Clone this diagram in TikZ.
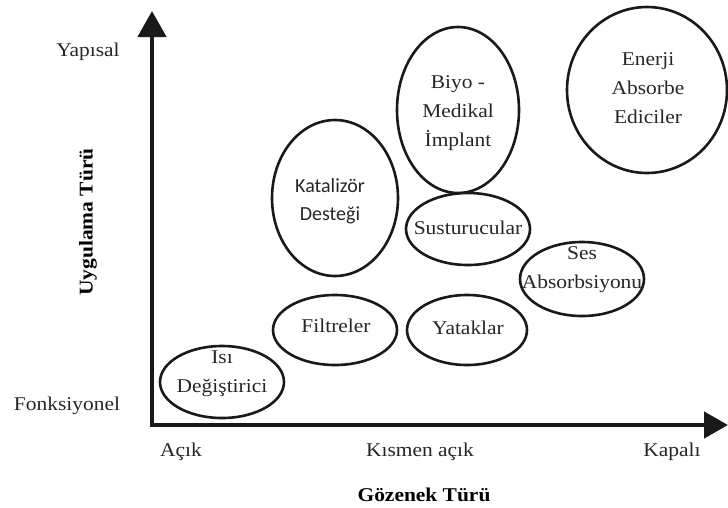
\documentclass[tikz,border=0pt]{standalone}
\usepackage{fontspec}
\setmainfont[FakeStretch=1.1]{Liberation Serif}
\newfontfamily\calfont{Carlito}
\usetikzlibrary{arrows.meta}
\tikzset{
  blobtext/.style={inner sep=0pt, align=center, text=black!85,
    font=\fontsize{19.5}{29}\selectfont},
  ring/.style={draw=black!90, line width=2.6pt},
  lbl/.style={font=\fontsize{19.5}{22}\selectfont, text=black!85, inner sep=0pt},
  ttl/.style={font=\fontsize{19.5}{22}\selectfont\bfseries, inner sep=0pt},
  axis/.style={line width=4.5pt, draw=black!90, {Triangle[length=26pt,width=28pt]}-{Triangle[length=24pt,width=26pt]}}
}
\begin{document}
\begin{tikzpicture}[x=1pt,y=-1pt]
\useasboundingbox (0,0) rectangle (728,507);
\coordinate (ytip) at (152,11);
\coordinate (org) at (152,425);
\coordinate (xtip) at (728,425);
\draw[axis, line join=miter] (ytip) -- (org) -- (xtip);

% ellipse centres
\coordinate (isiC) at (222,382);
\coordinate (filtC) at (335,330);
\coordinate (yatC) at (467,330);
\coordinate (katC) at (335,198);
\coordinate (biyoC) at (458,110);
\coordinate (susC) at (468,229);
\coordinate (sesC) at (582,279);
\coordinate (eneC) at (647,90);

\draw[ring] (isiC) ellipse [x radius=62, y radius=36];
\draw[ring] (filtC) ellipse [x radius=62, y radius=35];
\draw[ring] (yatC) ellipse [x radius=60, y radius=35];
\draw[ring] (katC) ellipse [x radius=63, y radius=78];
\draw[ring] (biyoC) ellipse [x radius=61, y radius=83];
\draw[ring] (susC) ellipse [x radius=62, y radius=36];
\draw[ring] (sesC) ellipse [x radius=62, y radius=37];
\draw[ring] (eneC) ellipse [x radius=80, y radius=83];

\node[blobtext] (isi) at (222,374) {Isı\\Değiştirici};
\node[blobtext] (filt) at (336,326) {Filtreler};
\node[blobtext] (yat) at (468,328) {Yataklar};
\node[blobtext, font=\calfont\fontsize{20}{28}\selectfont] (kat) at (330,201) {Katalizör\\Desteği};
\node[blobtext] (biyo) at (458,113) {Biyo -\\Medikal\\İmplant};
\node[blobtext] (sus) at (468,228) {Susturucular};
\node[blobtext] (ses) at (582,270) {Ses\\Absorbsiyonu};
\node[blobtext] (ene) at (648,88) {Enerji\\Absorbe\\Ediciler};

\node[lbl] (yap) at (88,52) {Yapısal};
\node[lbl] (fon) at (67,406) {Fonksiyonel};
\node[ttl, rotate=90] (uyg) at (88,222) {Uygulama Türü};
\node[lbl] (acik) at (181,452) {Açık};
\node[lbl] (kis) at (420,452) {Kısmen açık};
\node[lbl] (kap) at (672,452) {Kapalı};
\node[ttl] (goz) at (424,495) {Gözenek Türü};
\end{tikzpicture}
\end{document}
